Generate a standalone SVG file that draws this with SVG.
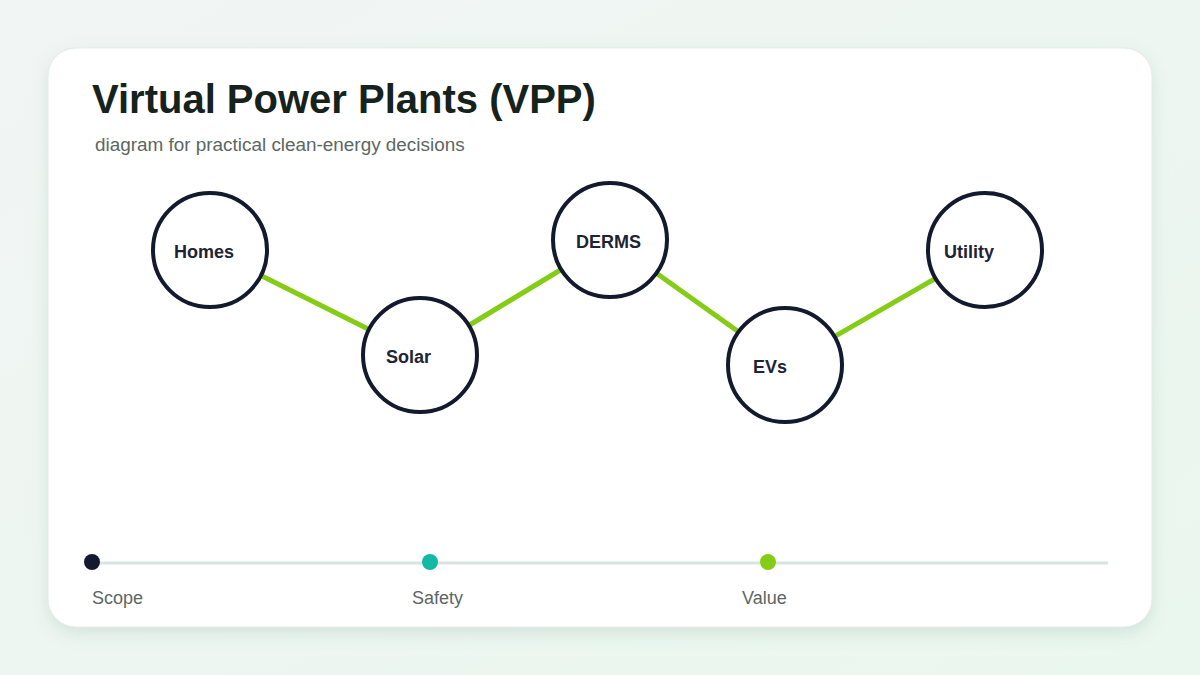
<svg xmlns="http://www.w3.org/2000/svg" width="1200" height="675" viewBox="0 0 1200 675">
  <defs>
    <linearGradient id="bg" x1="0" y1="0" x2="1" y2="1">
      <stop offset="0" stop-color="#f1f5f4"/>
      <stop offset="1" stop-color="#eaf7ee"/>
    </linearGradient>
    <filter id="shadow" x="-10%" y="-10%" width="120%" height="130%">
      <feDropShadow dx="0" dy="6" stdDeviation="8" flood-color="#5f8f7c" flood-opacity="0.18"/>
    </filter>
    <style>
      .node circle { fill: #ffffff; stroke: #141a2e; stroke-width: 4; }
      .node text { font-family: "Liberation Sans", Arial, sans-serif; font-weight: 700; font-size: 18px; fill: #1e2433; }
      .edge { stroke: #84cc16; stroke-width: 5; stroke-linecap: butt; fill: none; }
      .tl-label { font-family: "Liberation Sans", Arial, sans-serif; font-size: 18px; fill: #5c6763; }
    </style>
  </defs>
  <rect x="0" y="0" width="1200" height="675" fill="url(#bg)"/>
  <rect x="48" y="48" width="1104" height="579" rx="28" ry="28" fill="#ffffff" stroke="#e3ebe8" stroke-width="1" filter="url(#shadow)"/>

  <text x="92" y="113" font-family="Liberation Sans, Arial, sans-serif" font-weight="700" font-size="40" fill="#16221c">Virtual Power Plants (VPP)</text>
  <text x="95" y="151" font-family="Liberation Sans, Arial, sans-serif" font-size="18.9" fill="#5c6763">diagram for practical clean-energy decisions</text>

  <g id="connectors">
    <line class="edge" x1="261.9" y1="275.9" x2="368.1" y2="329.1"/>
    <line class="edge" x1="469.6" y1="325" x2="560.4" y2="270"/>
    <line class="edge" x1="657.2" y1="273.7" x2="737.8" y2="331.3"/>
    <line class="edge" x1="835.3" y1="336.1" x2="934.7" y2="278.9"/>
  </g>

  <g id="node-homes" class="node">
    <circle cx="210" cy="250" r="57"/>
    <text x="174" y="258">Homes</text>
  </g>
  <g id="node-solar" class="node">
    <circle cx="420" cy="355" r="57"/>
    <text x="386" y="363">Solar</text>
  </g>
  <g id="node-derms" class="node">
    <circle cx="610" cy="240" r="57"/>
    <text x="576" y="248">DERMS</text>
  </g>
  <g id="node-evs" class="node">
    <circle cx="785" cy="365" r="57"/>
    <text x="753" y="373">EVs</text>
  </g>
  <g id="node-utility" class="node">
    <circle cx="985" cy="250" r="57"/>
    <text x="944" y="258">Utility</text>
  </g>

  <g id="timeline">
    <line x1="92" y1="563" x2="1108" y2="563" stroke="#d7e4e0" stroke-width="3"/>
    <circle cx="92" cy="562" r="8" fill="#141a2e"/>
    <circle cx="430" cy="562" r="8" fill="#14b8a6"/>
    <circle cx="768" cy="562" r="8" fill="#84cc16"/>
    <text class="tl-label" x="92" y="604">Scope</text>
    <text class="tl-label" x="412" y="604">Safety</text>
    <text class="tl-label" x="742" y="604">Value</text>
  </g>
</svg>
